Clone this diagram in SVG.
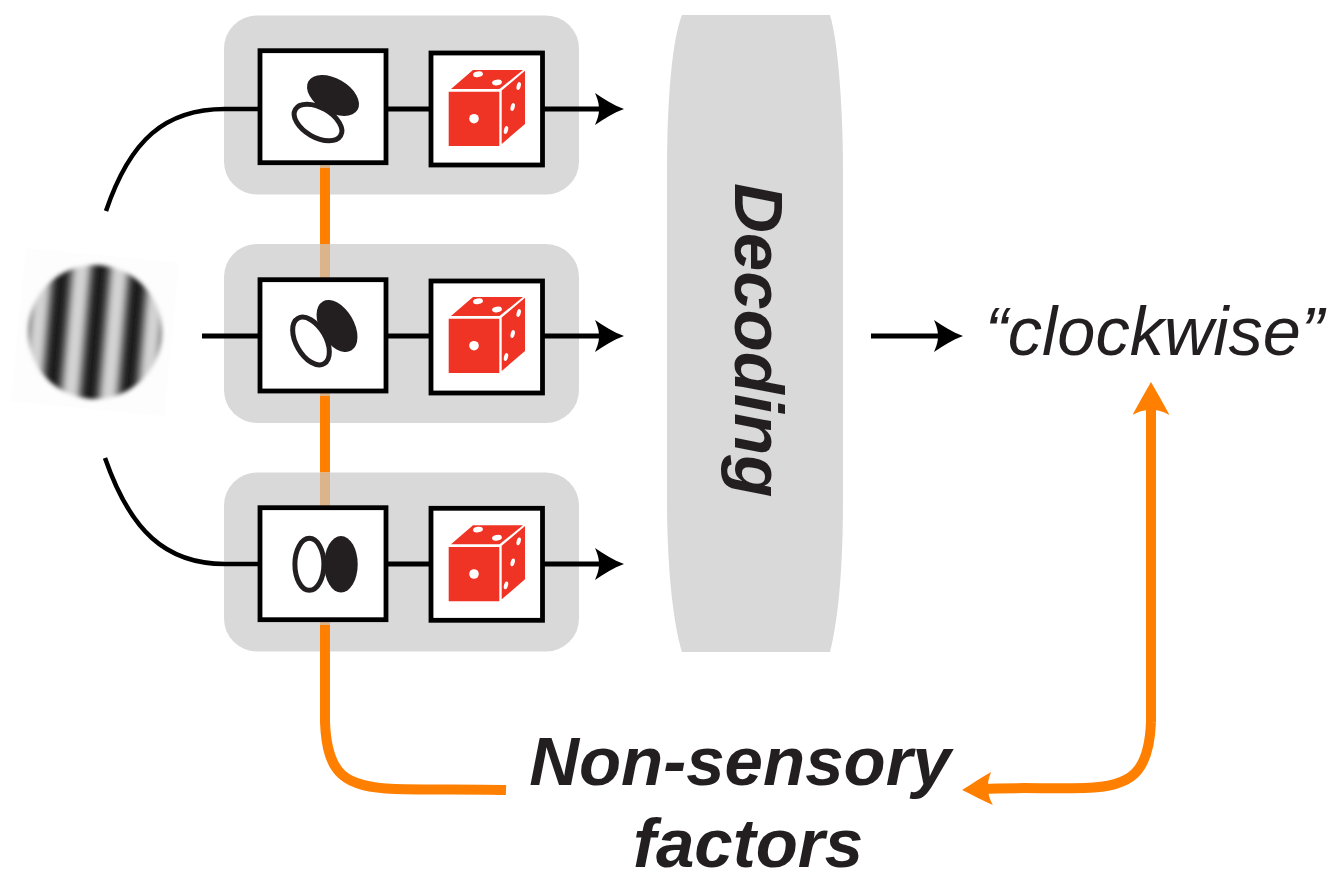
<svg xmlns="http://www.w3.org/2000/svg" xmlns:xlink="http://www.w3.org/1999/xlink" width="1342" height="885" viewBox="0 0 1342 885">
<style>
.panel{fill:#d9d9d9}
.box{fill:#fff;stroke:#000;stroke-width:4.800}
.wire{fill:none;stroke:#000;stroke-width:5}
.arc{fill:none;stroke:#000;stroke-width:4.500}
.or{fill:none;stroke:#ff8000;stroke-width:10}
.tan{fill:#dcb48c}
.lab{font-family:"Liberation Sans",Arial,sans-serif;font-style:italic;fill:#231f20}
.b{font-weight:700}
.face{fill:#ef3324}
.pip{fill:#fff}
.ink{fill:#231f20}
.ring{fill:#fff;stroke:#231f20;stroke-width:5}
</style>
<defs>
<marker id="ah" markerUnits="userSpaceOnUse" markerWidth="32" markerHeight="34" refX="9" refY="16" orient="auto"><path d="M0 0C9 6 18 12 29 16C18 20 9 26 0 32C3 25 4 21 4 16C4 11 3 7 0 0Z" fill="#000"/></marker>
<marker id="oh" markerUnits="userSpaceOnUse" markerWidth="36" markerHeight="40" refX="14" refY="18.500" orient="auto"><path d="M0 0C11 6 22 12 33 18.500C22 25 11 31 0 37C4 30 5 25 5 18.500C5 12 4 7 0 0Z" fill="#ff8000"/></marker>
<marker id="oh2" markerUnits="userSpaceOnUse" markerWidth="34" markerHeight="36" refX="10" refY="16.500" orient="auto"><path d="M0 0C10 5 20 11 30 16.500C20 22 10 28 0 33C3 27 4 22 4 16.500C4 11 3 6 0 0Z" fill="#ff8000"/></marker>
<linearGradient id="st" gradientUnits="userSpaceOnUse" x1="0" y1="0" x2="38" y2="0" spreadMethod="repeat">
<stop offset="0" stop-color="#d6d6d6"/><stop offset=".12" stop-color="#cccccc"/><stop offset=".33" stop-color="#3a3a3a"/><stop offset=".42" stop-color="#1f1f1f"/><stop offset=".58" stop-color="#1f1f1f"/><stop offset=".67" stop-color="#3a3a3a"/><stop offset=".88" stop-color="#cccccc"/><stop offset="1" stop-color="#d6d6d6"/>
</linearGradient>
<filter id="soft" x="-10%" y="-10%" width="120%" height="120%"><feGaussianBlur stdDeviation="2"/></filter>
<g id="die">
<path class="face" d="M448.700 91.700H499.300V146H448.700Z"/>
<path class="face" d="M451 89L473 70H523L499.500 89Z"/>
<path class="face" d="M501.700 90.500L525 70.700V124L501.700 144Z"/>
<ellipse class="pip" cx="478" cy="74.300" rx="5" ry="2.800" transform="rotate(-10 478 74.300)"/>
<ellipse class="pip" cx="497" cy="82.500" rx="5" ry="2.800" transform="rotate(-10 497 82.500)"/>
<circle class="pip" cx="474" cy="118.700" r="4.800"/>
<ellipse class="pip" cx="518.700" cy="86" rx="2" ry="4" transform="rotate(15 518.700 86)"/>
<ellipse class="pip" cx="512.700" cy="107" rx="2" ry="4" transform="rotate(15 512.700 107)"/>
<ellipse class="pip" cx="506" cy="130" rx="2" ry="4" transform="rotate(15 506 130)"/>
</g>
</defs>
<rect width="1342" height="885" fill="#fff"/>
<g id="stimulus">
<rect x="18" y="255" width="154" height="154" fill="#fdfdfd" transform="rotate(5.500 95 332)"/>
<g filter="url(#soft)"><circle cx="95" cy="332" r="67" fill="url(#st)" transform="rotate(5 95 332)"/></g>
</g>
<g id="decoding">
<path class="panel" d="M682 15H830C838 40 843 110 843 170V500C843 570 838 620 830 652H682C672 620 667 560 667 500V170C667 100 672 40 682 15Z"/>
<text class="lab b" font-size="69" transform="translate(735 183) rotate(90)">Decoding</text>
</g>
<g id="row1"><rect class="panel" x="224" y="15.500" width="355" height="179" rx="33"/></g>
<g id="row2"><rect class="panel" x="224" y="244" width="355" height="179" rx="33"/></g>
<g id="row3"><rect class="panel" x="224" y="472.500" width="355" height="179" rx="33"/></g>
<g id="connectors">
<path class="or" d="M325 166V244"/>
<rect class="tan" x="320" y="244" width="10" height="34"/>
<path class="or" d="M325 395V472.500"/>
<rect class="tan" x="320" y="472.500" width="10" height="34"/>
<path class="or" d="M325 625V722C327 775 345 787 395 789C430 790 470 789 506 790"/>
<rect class="tan" x="320" y="165" width="10" height="3"/>
<rect class="tan" x="320" y="393" width="10" height="3"/>
<rect class="tan" x="320" y="622" width="10" height="3"/>
<path class="arc" d="M106 211C130 140 165 109 225 109H258"/>
<path class="wire" d="M202 336H258"/>
<path class="arc" d="M105 458C130 530 165 564 225 564H258"/>
<path class="wire" d="M386 109H430"/>
<path class="wire" d="M386 336H430"/>
<path class="wire" d="M386 564H430"/>
<path class="wire" d="M543 109H604" marker-end="url(#ah)"/>
<path class="wire" d="M543 336H604" marker-end="url(#ah)"/>
<path class="wire" d="M543 564H604" marker-end="url(#ah)"/>
<path class="wire" d="M871 336H943" marker-end="url(#ah)"/>
<path class="or" d="M1151 722V401" marker-end="url(#oh)"/>
<path class="or" d="M1151 722C1149 772 1132 787 1085 788C1045 789 1020 787 982 789" marker-end="url(#oh2)"/>
</g>
<g id="unit1">
<rect class="box" x="260" y="50.700" width="126" height="112"/>
<ellipse class="ink" cx="333" cy="95.500" rx="28.400" ry="17" transform="rotate(30 333 95.500)"/>
<ellipse class="ring" cx="318" cy="122.500" rx="26.200" ry="14.800" transform="rotate(30 318 122.500)"/>
</g>
<g id="die1"><rect class="box" x="431" y="53" width="111.500" height="112"/><use xlink:href="#die" href="#die"/></g>
<g id="unit2">
<rect class="box" x="260" y="279.700" width="126" height="111.300"/>
<ellipse class="ink" cx="337" cy="326" rx="17" ry="28.400" transform="rotate(-30 337 326)"/>
<ellipse class="ring" cx="311" cy="341" rx="14.800" ry="26.200" transform="rotate(-30 311 341)"/>
</g>
<g id="die2"><rect class="box" x="431" y="281" width="111.500" height="112"/><use xlink:href="#die" href="#die" y="227"/></g>
<g id="unit3">
<rect class="box" x="260" y="507.700" width="126" height="112"/>
<ellipse class="ink" cx="341" cy="564.300" rx="16.700" ry="28.300"/>
<ellipse class="ring" cx="309.400" cy="564.300" rx="14.500" ry="26"/>
</g>
<g id="die3"><rect class="box" x="431" y="508.300" width="111.500" height="112"/><use xlink:href="#die" href="#die" y="455.300"/></g>
<g id="result"><text class="lab" x="985" y="355" font-size="68.500">“clockwise”</text></g>
<g id="factors">
<text class="lab b" x="740" y="784.500" font-size="69" text-anchor="middle">Non-sensory</text>
<text class="lab b" x="748" y="866.500" font-size="69" text-anchor="middle">factors</text>
</g>
</svg>
